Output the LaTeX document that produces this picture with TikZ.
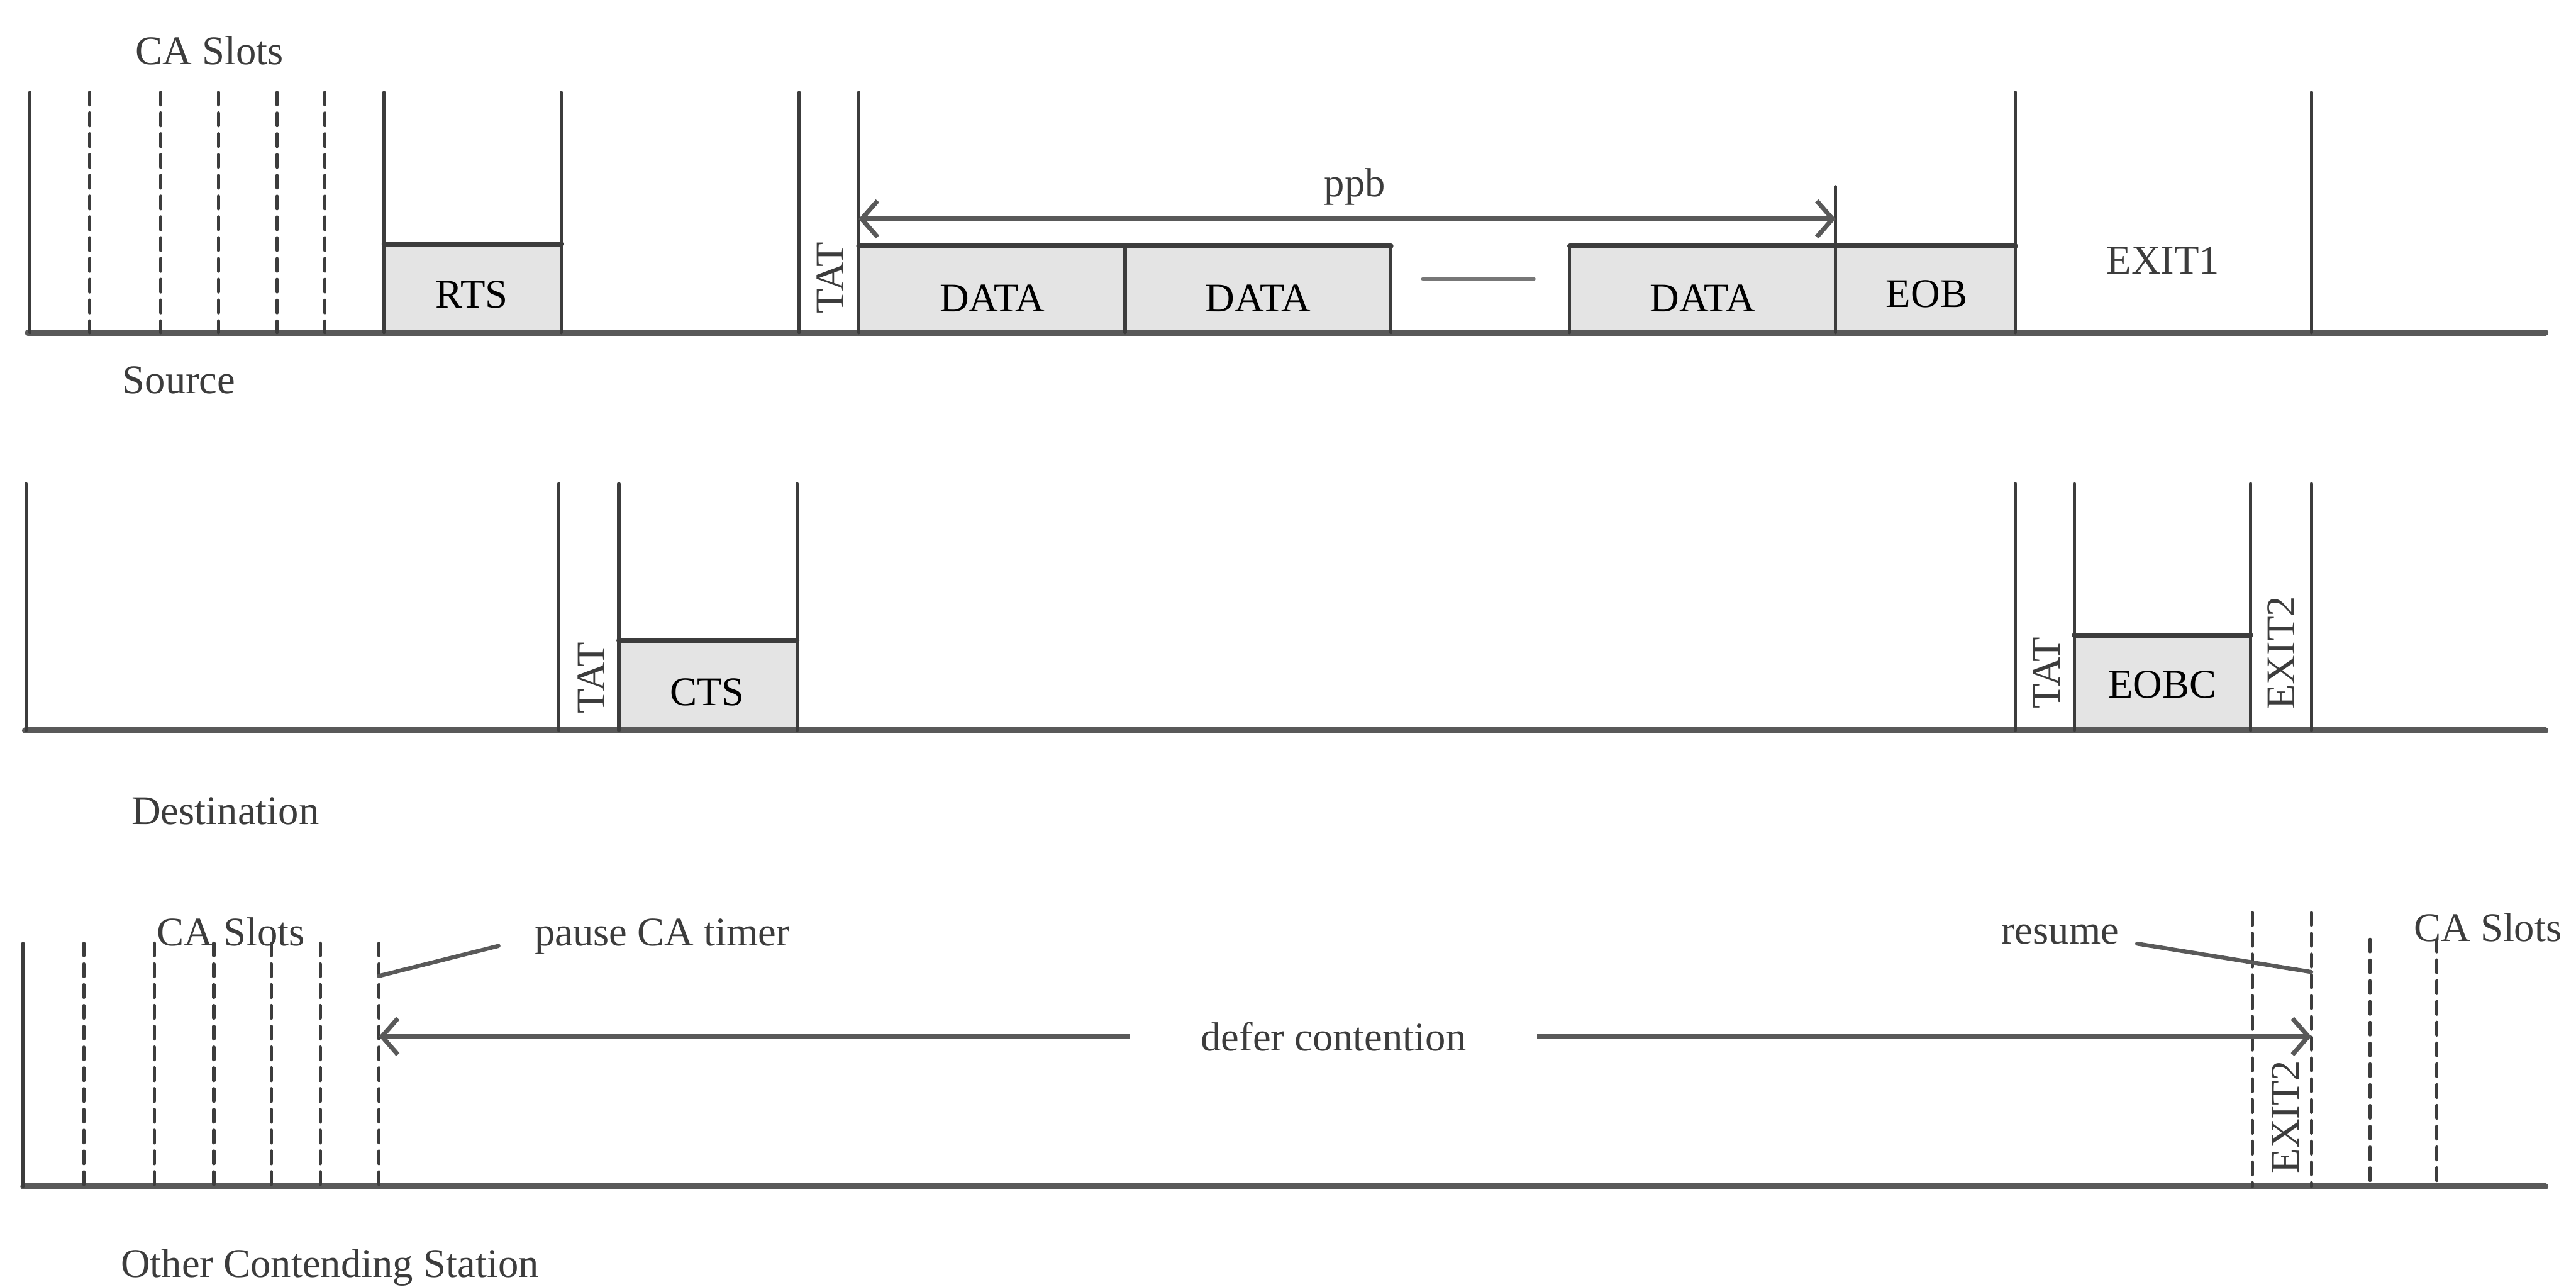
\documentclass[tikz,border=0pt]{standalone}
\usepackage{fontspec}
\setmainfont{Liberation Serif}
\usetikzlibrary{arrows.meta}
\definecolor{SlotInk}{HTML}{3C3C3C}
\definecolor{FrameFill}{HTML}{E4E4E4}

\begin{document}
\begin{tikzpicture}[x=4.4mm,y=-4.4mm,line cap=round,
  every node/.style={font=\fontsize{9}{11}\selectfont,text=SlotInk,inner sep=1pt},
  slot/.style={draw=SlotInk,line width=.7pt},
  caslot/.style={slot,dash pattern=on 2.8pt off 1.8pt},
  axis/.style={draw=SlotInk!85,line width=1.3pt},
  lid/.style={draw=SlotInk,line width=1.1pt},
  lead/.style={draw=SlotInk!85,line width=.9pt},
  span/.style={draw=SlotInk!85,line width=1pt,{Straight Barb[length=3.5pt,width=8pt]}-{Straight Barb[length=3.5pt,width=8pt]}},
  frame/.style={text=black}]
  \useasboundingbox (0,0) rectangle (45.54,22.74);
  % Source
  \fill[FrameFill] (6.79,4.31) rectangle (9.92,5.88) (15.18,4.35) rectangle (24.59,5.88) (27.75,4.35) rectangle (35.63,5.88);
  \draw[axis] (0.49,5.88)--(45.0,5.88);
  \foreach \x in {0.53,6.79,9.92,14.13,15.18,35.63,40.86} \draw[slot] (\x,1.63)--(\x,5.88);
  \foreach \x in {1.58,2.84,3.86,4.90,5.74} \draw[caslot] (\x,1.63)--(\x,5.88);
  \foreach \x in {19.89,24.59,27.75} \draw[slot] (\x,4.35)--(\x,5.88);
  \draw[slot] (32.45,3.30)--(32.45,5.88);
  \draw[lid] (6.79,4.31)--(9.92,4.31) (15.18,4.35)--(24.59,4.35) (27.75,4.35)--(35.63,4.35);
  \draw[slot,SlotInk!70] (25.15,4.93)--(27.12,4.93);
  \node (slotsS) at (3.70,0.89) {CA Slots}; \node[anchor=west] (src) at (2.07,6.72) {Source};
  \node[frame] (rts) at (8.34,5.21) {RTS}; \node[rotate=90] (tatS) at (14.68,4.91) {TAT};
  \node[frame] (data1) at (17.54,5.27) {DATA}; \node[frame] (data2) at (22.24,5.27) {DATA};
  \node[frame] (data3) at (30.10,5.27) {DATA}; \node[frame] (eob) at (34.06,5.20) {EOB};
  \node (exitA) at (38.24,4.60) {EXIT1}; \node (ppb) at (23.95,3.30) {ppb};
  \coordinate (ppbL) at (15.18,3.87); \coordinate (ppbR) at (32.45,3.87);
  \draw[span] (ppbL)--(ppbR);
  % Destination
  \fill[FrameFill] (10.94,11.32) rectangle (14.09,12.91) (36.67,11.23) rectangle (39.79,12.91);
  \draw[axis] (0.44,12.91)--(45.0,12.91);
  \foreach \x in {0.46,9.88,10.94,14.09,35.63,36.67,39.79,40.86} \draw[slot] (\x,8.55)--(\x,12.91);
  \draw[lid] (10.94,11.32)--(14.09,11.32) (36.67,11.23)--(39.79,11.23);
  \node[anchor=west] (dst) at (2.23,14.34) {Destination};
  \node[rotate=90] (tatD) at (10.45,11.98) {TAT}; \node[frame] (cts) at (12.50,12.24) {CTS};
  \node[rotate=90] (tatE) at (36.18,11.89) {TAT}; \node[frame] (eobc) at (38.23,12.10) {EOBC};
  \node[rotate=90] (exitB) at (40.33,11.54) {EXIT2};
  % Other Contending Station
  \draw[axis] (0.41,20.97)--(45.0,20.97);
  \draw[slot] (0.41,16.67)--(0.41,20.97);
  \foreach \x in {1.48,2.73,3.78,4.80,5.66,6.70} \draw[caslot] (\x,16.67)--(\x,20.97);
  \foreach \x in {39.82,40.86} \draw[caslot] (\x,16.13)--(\x,20.97);
  \foreach \x in {41.90,43.08} \draw[caslot] (\x,16.60)--(\x,20.97);
  \node (slotsO) at (4.08,16.47) {CA Slots}; \node (slotsR) at (43.98,16.39) {CA Slots};
  \node[anchor=west] (oth) at (2.04,22.40) {Other Contending Station};
  \node (pause) at (11.71,16.56) {pause CA timer}; \node (resume) at (36.42,16.52) {resume};
  \node[rotate=90] (exitC) at (40.40,19.74) {EXIT2};
  \coordinate (pauseAt) at (6.70,17.25); \coordinate (resumeAt) at (40.86,17.18);
  \draw[lead] ([xshift=-2.4mm,yshift=-.7mm]pause.west)--(pauseAt);
  \draw[lead] ([xshift=1mm,yshift=-.7mm]resume.east)--(resumeAt);
  \coordinate (deferL) at (6.70,18.32); \coordinate (deferR) at (40.86,18.32);
  \draw[span] (deferL)--node[pos=.494,fill=white,inner xsep=5.5mm] (defer) {defer contention} (deferR);
\end{tikzpicture}
\end{document}
